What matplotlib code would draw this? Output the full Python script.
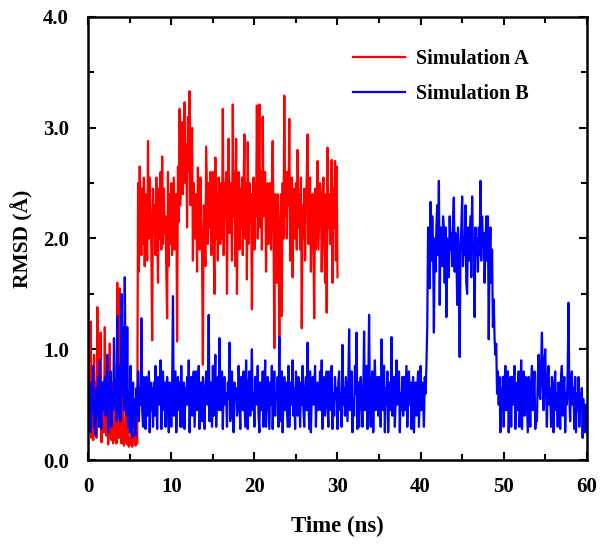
import numpy as np
import matplotlib.pyplot as plt
from matplotlib.ticker import MultipleLocator

# =====================
# 字体
# =====================

plt.rcParams['font.family'] = ['Liberation Serif', 'DejaVu Serif']
plt.rcParams['font.weight'] = 'bold'

# =====================
# 数据 (每 0.1 ns 一个点, 每行 1 ns)
# =====================

step = 0.1

rmsd_a = [
    1.40, 0.90, 0.30, 1.25, 0.20, 0.60, 0.18, 0.95, 0.35, 0.70,
    0.20, 1.38, 0.50, 0.85, 0.30, 1.15, 0.16, 0.70, 0.40, 0.25,
    1.20, 0.35, 0.22, 0.85, 0.14, 0.50, 1.05, 0.20, 0.18, 0.70,
    0.15, 0.35, 0.18, 0.70, 0.15, 1.60, 0.25, 0.20, 1.55, 0.30,
    0.15, 0.22, 0.90, 0.13, 0.30, 0.16, 0.55, 0.14, 0.25, 0.12,
    0.20, 0.14, 0.35, 0.12, 0.22, 0.18, 0.30, 0.13, 0.20, 0.15,
    2.50, 1.70, 2.65, 2.05, 1.85, 2.45, 1.95, 2.55, 1.75, 2.40,
    2.10, 1.80, 2.88, 2.00, 2.55, 2.25, 1.90, 1.08, 2.45, 2.05,
    2.30, 1.85, 2.55, 2.15, 1.60, 2.45, 2.00, 2.60, 1.90, 2.74,
    1.95, 2.45, 2.05, 2.20, 1.70, 1.28, 2.60, 1.75, 2.40, 1.95,
    2.50, 1.85, 2.20, 2.55, 1.90, 2.10, 2.40, 1.07, 2.65, 2.15,
    3.17, 2.30, 2.70, 3.05, 2.40, 2.90, 3.23, 2.50, 2.85, 2.10,
    3.10, 2.60, 3.33, 2.30, 2.80, 3.00, 1.80, 2.50, 2.20, 2.00,
    2.40, 1.70, 2.64, 2.20, 1.90, 2.55, 2.10, 1.85, 0.86, 2.30,
    2.20, 1.75, 2.83, 2.40, 1.95, 2.50, 2.10, 2.60, 1.85, 2.40,
    2.60, 1.90, 1.50, 2.73, 2.00, 2.40, 1.80, 2.55, 2.10, 1.95,
    2.50, 2.00, 3.17, 1.85, 2.50, 2.20, 2.60, 1.50, 2.35, 2.90,
    2.05, 2.50, 2.30, 1.80, 3.21, 2.20, 2.60, 1.75, 2.90, 1.50,
    2.30, 2.60, 1.90, 2.45, 2.10, 2.55, 1.85, 2.45, 2.94, 2.00,
    2.50, 1.63, 2.87, 1.95, 2.50, 2.15, 2.40, 1.36, 2.20, 2.55,
    1.90, 2.50, 2.20, 3.20, 2.00, 2.40, 3.21, 2.10, 2.60, 1.90,
    3.10, 2.20, 2.55, 2.60, 1.70, 2.30, 2.50, 1.95, 2.35, 2.50,
    1.90, 2.45, 2.88, 2.10, 1.01, 2.40, 2.20, 1.60, 2.40, 2.00,
    0.95, 2.10, 2.40, 1.30, 2.50, 2.00, 3.29, 2.20, 2.60, 2.00,
    2.60, 2.30, 3.08, 1.80, 2.50, 2.55, 1.65, 2.20, 2.45, 2.00,
    2.50, 1.90, 2.80, 2.10, 2.40, 1.90, 2.55, 1.19, 2.30, 2.00,
    2.45, 1.80, 2.30, 2.55, 2.94, 1.95, 2.35, 2.55, 1.70, 2.25,
    2.40, 2.00, 1.28, 2.45, 1.90, 2.35, 2.70, 1.90, 2.20, 2.50,
    2.40, 1.70, 2.25, 2.55, 2.00, 1.60, 2.40, 1.33, 2.82, 2.10,
    2.40, 1.95, 2.30, 2.71, 1.60, 2.45, 2.10, 2.70, 1.80, 2.65,
    1.65,
]

rmsd_b = [
    0.80, 0.35, 0.60, 0.25, 0.70, 0.45, 0.85, 0.30, 0.55, 0.22,
    0.65, 0.40, 0.75, 0.30, 0.90, 0.50, 0.28, 0.70, 0.45, 0.60,
    0.75, 0.40, 0.55, 0.95, 0.25, 0.65, 0.50, 0.80, 0.30, 0.60,
    0.45, 1.10, 0.50, 0.70, 0.35, 1.30, 0.60, 0.40, 0.85, 0.35,
    1.50, 0.60, 1.20, 0.45, 1.65, 0.80, 0.40, 1.20, 0.30, 0.60,
    0.25, 0.85, 0.40, 0.20, 0.70, 0.30, 0.55, 0.22, 0.65, 0.40,
    0.80, 0.35, 0.65, 0.50, 1.28, 0.45, 0.30, 0.75, 0.55, 0.28,
    0.75, 0.40, 0.60, 0.80, 0.25, 0.70, 0.45, 0.65, 0.30, 0.70,
    0.40, 0.85, 0.55, 0.28, 0.75, 0.60, 0.50, 0.90, 0.28, 0.65,
    0.80, 0.45, 0.70, 0.30, 0.60, 0.75, 0.45, 0.25, 0.70, 0.55,
    0.30, 0.65, 1.48, 0.40, 0.60, 0.80, 0.25, 0.55, 0.75, 0.45,
    0.70, 0.30, 0.85, 0.30, 0.60, 0.70, 0.28, 0.65, 0.50, 0.75,
    0.50, 0.90, 0.25, 0.60, 0.75, 0.40, 0.65, 0.80, 0.30, 0.55,
    0.80, 0.45, 0.60, 0.85, 0.28, 0.55, 0.70, 0.35, 0.75, 0.50,
    0.28, 0.65, 0.80, 0.50, 0.60, 1.31, 0.35, 0.70, 0.55, 0.30,
    0.85, 0.40, 0.65, 0.95, 0.30, 0.60, 0.75, 0.45, 1.10, 0.50,
    0.45, 0.80, 0.28, 0.65, 0.75, 0.50, 0.60, 0.30, 0.70, 0.55,
    1.06, 0.35, 0.60, 0.80, 0.45, 0.25, 0.70, 0.55, 0.65, 0.40,
    0.45, 0.85, 0.55, 0.28, 0.75, 0.60, 0.45, 0.80, 0.55, 0.30,
    0.90, 0.50, 0.28, 0.70, 0.80, 0.40, 0.65, 1.00, 0.45, 0.60,
    0.30, 0.75, 0.55, 0.50, 0.85, 0.40, 0.25, 0.70, 0.60, 0.45,
    0.80, 0.30, 0.65, 0.90, 0.30, 0.60, 0.75, 0.50, 0.28, 0.70,
    0.50, 0.85, 0.28, 0.65, 0.80, 0.40, 0.60, 0.55, 0.75, 0.30,
    1.11, 0.35, 0.65, 0.80, 0.25, 0.60, 0.75, 0.45, 0.70, 0.50,
    0.30, 0.85, 0.30, 0.60, 0.70, 0.50, 0.90, 0.40, 0.65, 0.28,
    0.80, 0.55, 0.40, 0.75, 0.60, 0.30, 0.70, 0.50, 0.85, 0.45,
    0.30, 0.65, 0.75, 0.45, 1.06, 0.55, 0.28, 0.80, 0.25, 0.60,
    0.75, 0.50, 0.65, 0.85, 0.30, 0.60, 0.70, 0.45, 0.55, 0.80,
    0.45, 0.90, 0.28, 0.65, 0.75, 0.40, 0.60, 0.80, 0.50, 0.30,
    0.80, 0.45, 0.70, 0.85, 0.28, 0.60, 0.40, 0.75, 0.55, 0.65,
    0.28, 0.70, 0.80, 0.45, 0.60, 0.30, 1.04, 0.50, 0.65, 0.40,
    0.75, 0.55, 0.35, 0.70, 1.18, 0.45, 0.60, 0.80, 0.25, 0.55,
    0.40, 0.85, 0.60, 1.15, 0.28, 0.70, 0.30, 0.65, 0.75, 0.50,
    0.30, 0.60, 1.16, 0.45, 0.70, 0.85, 0.28, 0.65, 1.31, 0.50,
    0.30, 0.70, 0.80, 0.25, 0.60, 0.90, 0.45, 0.55, 0.75, 0.40,
    0.75, 0.50, 0.30, 1.09, 0.60, 0.45, 0.85, 0.25, 0.65, 0.50,
    0.80, 0.25, 0.60, 0.70, 0.45, 1.11, 0.40, 0.65, 0.75, 0.30,
    0.55, 0.90, 0.50, 0.70, 0.80, 0.25, 0.60, 0.45, 0.75, 0.40,
    0.75, 0.45, 0.65, 0.85, 0.30, 0.60, 0.80, 0.50, 0.70, 0.28,
    0.60, 0.75, 0.25, 0.55, 0.70, 0.40, 0.65, 0.80, 0.30, 0.60,
    0.85, 0.45, 0.70, 0.55, 0.30, 0.75, 0.60, 0.85, 1.20, 2.10,
    1.90, 1.55, 2.33, 1.80, 2.20, 1.95, 1.15, 2.00, 1.70, 2.10,
    2.30, 1.85, 2.52, 1.40, 2.10, 1.90, 1.75, 2.20, 2.10, 1.60,
    2.10, 1.29, 2.00, 1.85, 1.65, 2.20, 1.90, 2.05, 1.75, 2.15,
    2.37, 1.70, 2.05, 1.95, 1.40, 2.10, 1.80, 0.93, 1.90, 2.10,
    2.38, 1.75, 2.00, 1.85, 2.30, 1.60, 1.50, 2.10, 1.80, 2.00,
    2.20, 1.65, 2.38, 1.90, 1.95, 1.29, 2.10, 1.85, 2.00, 1.70,
    2.10, 1.85, 2.52, 1.80, 2.20, 1.95, 2.05, 1.60, 1.90, 2.20,
    1.80, 2.20, 1.09, 1.85, 2.10, 1.60, 1.90, 1.20, 1.45, 1.10,
    0.95, 1.05, 0.60, 0.80, 0.50, 0.75, 0.25, 0.65, 0.45, 0.75,
    0.30, 0.70, 0.85, 0.45, 0.60, 0.80, 0.25, 0.55, 0.75, 0.30,
    0.75, 0.50, 0.65, 0.85, 0.28, 0.60, 0.70, 0.45, 0.80, 0.30,
    0.45, 0.90, 0.28, 0.65, 0.80, 0.40, 0.60, 0.75, 0.50, 0.25,
    0.75, 0.55, 0.30, 0.70, 0.85, 0.45, 0.60, 0.80, 0.28, 0.40,
    0.35, 0.75, 0.95, 0.60, 0.55, 0.85, 1.15, 0.70, 0.45, 0.90,
    1.00, 0.60, 0.30, 0.75, 0.85, 0.50, 0.65, 0.30, 0.75, 0.55,
    0.25, 0.70, 0.80, 0.45, 0.60, 0.30, 0.70, 0.55, 0.28, 0.75,
    0.85, 0.40, 0.65, 0.75, 0.25, 0.60, 0.50, 0.80, 1.42, 0.55,
    0.35, 0.70, 0.80, 0.50, 0.65, 0.28, 0.75, 0.25, 0.60, 0.45,
    0.75, 0.30, 0.60, 0.45, 0.65, 0.20, 0.55, 0.40, 0.25, 0.50,
    0.25,
]

time_a = np.arange(len(rmsd_a)) * step
time_b = np.arange(len(rmsd_b)) * step

# =====================
# 创建图表
# =====================

fig = plt.figure(figsize=(6.0, 5.47), dpi=100)
ax = fig.add_axes([0.147, 0.159, 0.831, 0.810])

# =====================
# 绘图
# =====================

ax.plot(time_a, rmsd_a, color='#ff0000', lw=1.6, label='Simulation A')
ax.plot(time_b, rmsd_b, color='#0000ff', lw=1.6, label='Simulation B')

# =====================
# 图表设置
# =====================

ax.set_xlim(0, 60)
ax.set_ylim(0, 4.0)

ax.xaxis.set_major_locator(MultipleLocator(10))
ax.xaxis.set_minor_locator(MultipleLocator(5))
ax.yaxis.set_major_locator(MultipleLocator(1.0))
ax.yaxis.set_minor_locator(MultipleLocator(0.5))
ax.set_yticklabels([f'{v:.1f}' for v in ax.get_yticks()])

ax.tick_params(which='both', direction='in', top=True, right=True,
               width=1.5, labelsize=15)
ax.tick_params(axis='x', pad=12)
ax.tick_params(axis='y', pad=14)
ax.tick_params(which='major', length=6)
ax.tick_params(which='minor', length=4)

for spine in ax.spines.values():
    spine.set_linewidth(1.8)

ax.set_xlabel('Time (ns)', fontsize=16.5, fontweight='bold', labelpad=14)
ax.set_ylabel('RMSD (Å)', fontsize=15.5, fontweight='bold', labelpad=7)

ax.legend(loc='upper left', bbox_to_anchor=(0.51, 0.95), frameon=False,
          borderpad=0, handlelength=2.6, handletextpad=0.55,
          labelspacing=0.75, prop={'size': 14.5, 'weight': 'bold'})

fig.savefig('out.png', dpi=100)
